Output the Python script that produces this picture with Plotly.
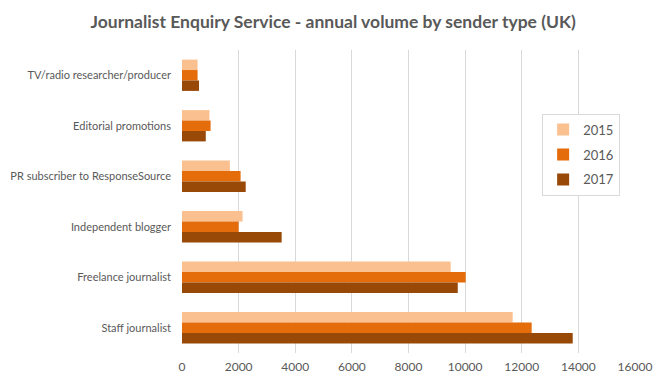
import plotly.graph_objects as go

categories = ["TV/radio researcher/producer", "Editorial promotions", "PR subscriber to ResponseSource",
              "Independent blogger", "Freelance journalist", "Staff journalist"]
years = ["2015", "2016", "2017"]
v2015 = [550, 970, 1690, 2140, 9490, 11680]
v2016 = [550, 1010, 2070, 2000, 10020, 12350]
v2017 = [600, 840, 2250, 3520, 9740, 13800]
colors = ["#FAC090", "#E46C0A", "#984807"]
tick_vals = [0, 2000, 4000, 6000, 8000, 10000, 12000, 14000, 16000]
tick_text = [str(v) for v in tick_vals]

fig = go.Figure()
for name, vals, c in zip(years, [v2015, v2016, v2017], colors):
    fig.add_trace(go.Bar(y=categories, x=vals, name=name, orientation="h",
                         marker=dict(color=c, line=dict(width=0)), legendgroup=name))

fig.update_layout(
    width=665, height=384,
    paper_bgcolor="white", plot_bgcolor="white",
    font=dict(family="Lato, Calibri, sans-serif", color="#595959", size=11),
    title=dict(text="<b>Journalist Enquiry Service - annual volume by sender type (UK)</b>",
               x=0.489, xanchor="center", y=0.963, yanchor="middle",
               font=dict(size=17.5, color="#595959")),
    margin=dict(l=174, r=38, t=42, b=39, autoexpand=False),
    barmode="group", bargap=0.38, bargroupgap=0,
    xaxis=dict(range=[0, 16000], tickvals=tick_vals, ticktext=tick_text, showgrid=True,
               gridcolor="#D9D9D9", gridwidth=1, zeroline=False, showline=False, ticks="",
               automargin=False, ticklabelstandoff=5, tickfont=dict(size=12, color="#595959")),
    yaxis=dict(autorange="reversed", showgrid=False, ticks="", showline=False, automargin=False,
               ticklabelstandoff=10, tickfont=dict(size=11, color="#595959")),
    legend=dict(x=0.795, y=0.79, xanchor="left", yanchor="top",
                bordercolor="#D9D9D9", borderwidth=1, bgcolor="white",
                font=dict(size=13, color="#595959"), traceorder="grouped",
                tracegroupgap=5, itemwidth=30),
)

fig.write_html("out.html")
